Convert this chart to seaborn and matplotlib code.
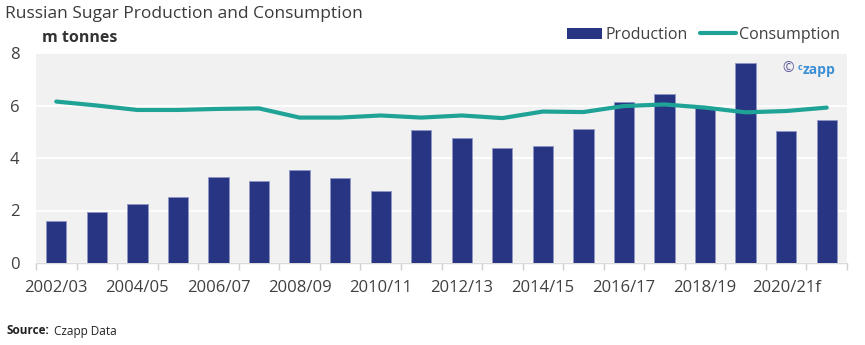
import numpy as np
import pandas as pd
import matplotlib
matplotlib.use("Agg")
import matplotlib.pyplot as plt
from matplotlib.patches import Patch
from matplotlib.lines import Line2D
import seaborn as sns

seasons = ["2002/03", "2003/04", "2004/05", "2005/06", "2006/07", "2007/08",
           "2008/09", "2009/10", "2010/11", "2011/12", "2012/13", "2013/14",
           "2014/15", "2015/16", "2016/17", "2017/18", "2018/19", "2019/20",
           "2020/21f", "2021/22f"]
production = [1.60, 1.93, 2.25, 2.50, 3.27, 3.12, 3.56, 3.22, 2.73, 5.05,
              4.75, 4.39, 4.44, 5.10, 6.12, 6.44, 5.89, 7.62, 5.04, 5.45]
consumption = [6.15, 6.00, 5.83, 5.83, 5.87, 5.89, 5.54, 5.54, 5.62, 5.54,
               5.62, 5.52, 5.77, 5.75, 5.98, 6.04, 5.92, 5.74, 5.79, 5.92]
yticks = [0, 2, 4, 6, 8]

BAR = "#283583"
LINE = "#1fa396"
TXT = "#404040"

sns.set_theme(style="white")
plt.rcParams['font.family'] = ['Open Sans', 'DejaVu Sans']

df = pd.DataFrame({"season": seasons, "production": production,
                   "consumption": consumption, "idx": np.arange(len(seasons))})

fig = plt.figure(figsize=(8.65, 3.45), dpi=100)
ax = fig.add_axes([36/865, 82/345, 811/865, 210/345])
ax.set_facecolor("#f1f1f1")

sns.barplot(data=df, x="season", y="production", color=BAR, width=0.5,
            saturation=1, edgecolor="#8f96c4", linewidth=0.6, ax=ax, zorder=3)
sns.lineplot(data=df, x="idx", y="consumption", color=LINE, linewidth=3,
             ax=ax, zorder=4)

ax.set_xlim(-0.5, len(seasons) - 0.5)
ax.set_ylim(0, 8)
ax.set_yticks(yticks)
ax.set_yticklabels([str(v) for v in yticks], fontsize=12, color=TXT)
ax.yaxis.grid(True, color="white", linewidth=1.3, zorder=1)
ax.set_axisbelow(True)
ax.tick_params(axis="y", length=0, pad=12)

ax.set_xticks(np.arange(0, len(seasons), 2))
ax.set_xticklabels(seasons[::2], fontsize=12, color=TXT)
ax.set_xticks(np.arange(-0.5, len(seasons), 1), minor=True)
ax.tick_params(axis="x", which="major", length=0, pad=12)
ax.tick_params(axis="x", which="minor", length=5, color="#d0d0d0", width=1,
               direction="out", bottom=True)

for s in ["top", "right", "left"]:
    ax.spines[s].set_visible(False)
ax.spines["bottom"].set_color("#d9d9d9")
ax.spines["bottom"].set_linewidth(1)
ax.set_xlabel("")
ax.set_ylabel("")

fig.text(5/865, 1 - 14/345, "Russian Sugar Production and Consumption",
         fontsize=12.5, color="#3a3a3a", va="center", ha="left")
fig.text(42/865, 1 - 38/345, "m tonnes", fontsize=11.5, fontweight="bold",
         color="#333333", va="center", ha="left")

handles = [Patch(facecolor=BAR, edgecolor="none"),
           Line2D([0], [0], color=LINE, linewidth=3)]
fig.legend(handles, ["Production", "Consumption"], loc="center right",
           bbox_to_anchor=(846/865, 1 - 35/345), ncol=2, frameon=False,
           fontsize=11.5, handlelength=2.2, handletextpad=0.2,
           columnspacing=0.8, labelcolor=TXT, borderaxespad=0)

fig.text(782/865, 1 - 69/345, "©", fontsize=10, color="#5a5a9a",
         va="center", ha="left")
fig.text(798/865, 1 - 67/345, "c", fontsize=6.5, color="#3b8fd4",
         fontweight="bold", va="center", ha="left")
fig.text(803/865, 1 - 70/345, "zapp", fontsize=10, color="#3b8fd4",
         fontweight="bold", va="center", ha="left")

fig.text(7/865, 1 - 331/345, "Source:", fontsize=8.5, fontweight="bold",
         color="#222222", va="center", ha="left", family=["Open Sans"])
fig.text(54/865, 1 - 331/345, "Czapp Data", fontsize=8.5,
         color="#222222", va="center", ha="left", family=["Open Sans"])

fig.savefig("out.png", dpi=100)
